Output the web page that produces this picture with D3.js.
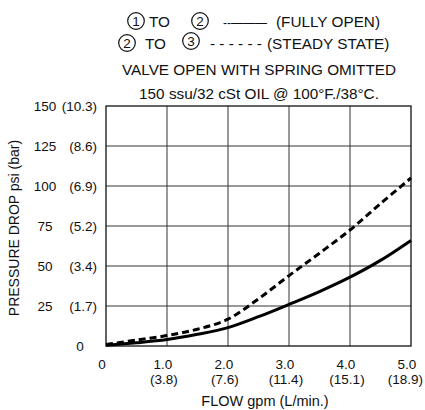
<!DOCTYPE html>
<html><head><meta charset="utf-8">
<script src="https://cdn.jsdelivr.net/npm/d3@7/dist/d3.min.js"></script>
<style>
body{margin:0;background:#fff;}
svg{display:block;font-family:"Liberation Sans",Arial,sans-serif;}
</style></head>
<body>
<svg id="c" width="425" height="410"></svg>
<script>
const flow = [0, 0.5, 1, 1.5, 2, 2.5, 3, 3.5, 4, 4.5, 5];
const fullyOpen = [0.5, 2, 4, 7.3, 11.5, 18.3, 26, 34, 43, 53.5, 66];
const steadyState = [1, 3.7, 6.5, 10.5, 16.8, 29.5, 44, 58, 72.5, 89, 105];
const xTicks = [0, 1, 2, 3, 4, 5];
const xTickTop = ["0", "1.0", "2.0", "3.0", "4.0", "5.0"];
const xTickBottom = ["", "(3.8)", "(7.6)", "(11.4)", "(15.1)", "(18.9)"];
const yTicks = [0, 25, 50, 75, 100, 125, 150];
const yTickPsi = ["0", "25", "50", "75", "100", "125", "150"];
const yTickBar = ["", "(1.7)", "(3.4)", "(5.2)", "(6.9)", "(8.6)", "(10.3)"];

const W = 425;
const svg = d3.select("#c");
const x = d3.scaleLinear().domain([0, 5]).range([106, 411]);
const y = d3.scaleLinear().domain([0, 150]).range([346, 106]);

// grid
const g = svg.append("g");
g.selectAll(".vx").data(xTicks.slice(1, -1)).join("line")
  .attr("x1", d => x(d)).attr("x2", d => x(d)).attr("y1", y(0)).attr("y2", y(150))
  .attr("stroke", "#333").attr("stroke-width", 1);
g.selectAll(".hy").data(yTicks.slice(1, -1)).join("line")
  .attr("x1", x(0)).attr("x2", x(5)).attr("y1", d => y(d)).attr("y2", d => y(d))
  .attr("stroke", "#333").attr("stroke-width", 1);
g.append("rect").attr("x", x(0)).attr("y", y(150)).attr("width", x(5) - x(0)).attr("height", y(0) - y(150))
  .attr("fill", "none").attr("stroke", "#111").attr("stroke-width", 1.3);

// lines
const pts = arr => flow.map((f, i) => [f, arr[i]]);
const line = d3.line().x(d => x(d[0])).y(d => y(d[1])).curve(d3.curveCatmullRom.alpha(0.5));
svg.append("path").attr("d", line(pts(steadyState))).attr("fill", "none")
  .attr("stroke", "#000").attr("stroke-width", 3).attr("stroke-dasharray", "7,4");
svg.append("path").attr("d", line(pts(fullyOpen))).attr("fill", "none")
  .attr("stroke", "#000").attr("stroke-width", 3);

// y tick labels
const yl = svg.append("g").attr("font-size", 13.5).attr("fill", "#111");
yl.selectAll(".p").data(yTicks).join("text")
  .attr("x", (d, i) => i === 0 ? 80 : 45).attr("y", d => y(d)).attr("dy", "0.35em")
  .attr("text-anchor", "middle").text((d, i) => yTickPsi[i]);
yl.selectAll(".b").data(yTicks).join("text")
  .attr("x", 97).attr("y", d => y(d)).attr("dy", "0.35em")
  .attr("text-anchor", "end").text((d, i) => yTickBar[i]);

// x tick labels (kept inside the page)
const xl = svg.append("g").attr("font-size", 13.5).attr("fill", "#111").attr("text-anchor", "middle");
function fit(sel, off) {
  sel.each(function(d) {
    const w = this.getComputedTextLength();
    const cx = Math.min(x(d) + off, W - 2 - w / 2);
    d3.select(this).attr("x", cx);
  });
}
xl.selectAll(".t").data(xTicks).join("text")
  .attr("y", 369).text((d, i) => xTickTop[i]).call(fit, -4);
xl.selectAll(".u").data(xTicks).join("text")
  .attr("y", 384).text((d, i) => xTickBottom[i]).call(fit, -3);

// axis titles
svg.append("text").attr("x", 265).attr("y", 406).attr("text-anchor", "middle")
  .attr("font-size", 14.5).attr("fill", "#111").text("FLOW gpm (L/min.)");
svg.append("text").attr("transform", "translate(19,228) rotate(-90)").attr("text-anchor", "middle")
  .attr("font-size", 14).attr("fill", "#111").text("PRESSURE DROP psi (bar)");

// title lines
const t = svg.append("g").attr("fill", "#111").attr("font-size", 15.3);
function piece(str, px, py) {
  return t.append("text").attr("x", px).attr("y", py).text(str);
}
function circled(digit, cx, cy) {
  t.append("circle").attr("cx", cx).attr("cy", cy).attr("r", 8.3)
    .attr("fill", "none").attr("stroke", "#111").attr("stroke-width", 1.2);
  t.append("text").attr("x", cx).attr("y", cy).attr("dy", "0.36em")
    .attr("text-anchor", "middle").attr("font-size", 13.5).text(digit);
}
circled("1", 136, 21);
piece("TO", 149, 27);
circled("2", 200, 21);
piece("--———", 223, 27).attr("font-size", 12);
piece("(FULLY OPEN)", 276, 27);
circled("2", 127, 43);
piece("TO", 145, 49);
circled("3", 191, 41);
piece("- - - - - -", 210, 49);
piece("(STEADY STATE)", 267, 49);
t.append("text").attr("x", 259).attr("y", 75).attr("text-anchor", "middle").text("VALVE OPEN WITH SPRING OMITTED");
t.append("text").attr("x", 259).attr("y", 99).attr("text-anchor", "middle").text("150 ssu/32 cSt OIL @ 100°F./38°C.");
</script>
</body></html>
